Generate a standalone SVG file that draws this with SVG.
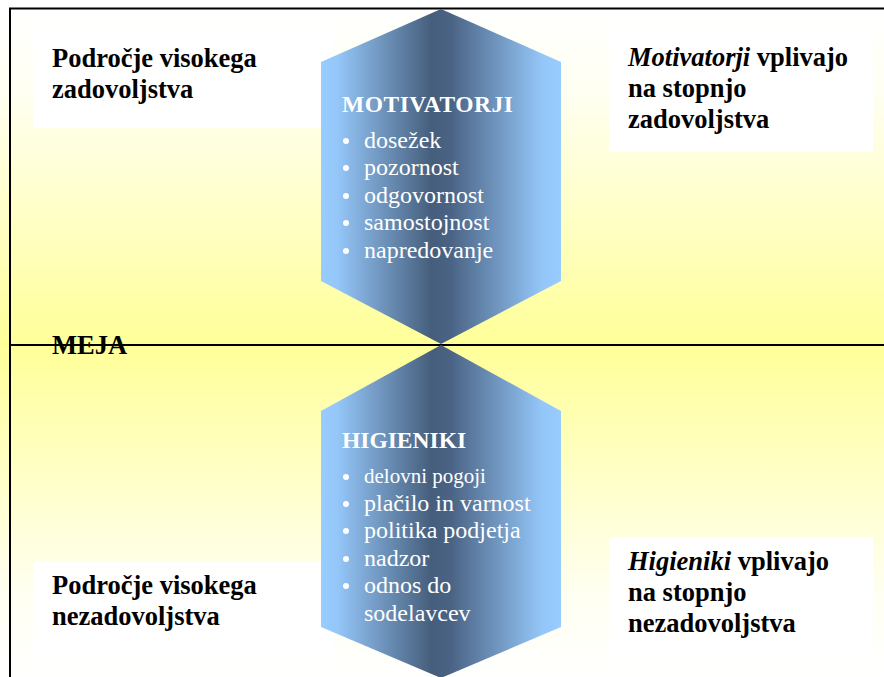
<svg xmlns="http://www.w3.org/2000/svg" width="884" height="677" viewBox="0 0 884 677">
  <style>
    text { font-family: "Liberation Serif", "DejaVu Serif", serif; }
    .lbl { font-weight: bold; font-size: 26.5px; fill: #000; }
    .head { font-weight: bold; font-size: 23.5px; fill: #fff; }
    .item { font-size: 24px; fill: #fff; }
    .dot { fill: #fff; }
    .box { fill: #fff; }
    .rule { stroke: #000; stroke-width: 2; fill: none; }
  </style>
  <defs>
    <linearGradient id="bgTop" x1="0" y1="9" x2="0" y2="345" gradientUnits="userSpaceOnUse">
      <stop offset="0" stop-color="#ffffff"/>
      <stop offset="0.25" stop-color="#fffff2"/>
      <stop offset="1" stop-color="#ffff99"/>
    </linearGradient>
    <linearGradient id="bgBottom" x1="0" y1="345" x2="0" y2="677" gradientUnits="userSpaceOnUse">
      <stop offset="0" stop-color="#ffff99"/>
      <stop offset="0.75" stop-color="#fffff2"/>
      <stop offset="1" stop-color="#ffffff"/>
    </linearGradient>
    <linearGradient id="steel" x1="321" y1="0" x2="561" y2="0" gradientUnits="userSpaceOnUse">
      <stop offset="0" stop-color="#99ccff"/>
      <stop offset="0.07" stop-color="#94c6f8"/>
      <stop offset="0.46" stop-color="#465e7c"/>
      <stop offset="0.54" stop-color="#4a6384"/>
      <stop offset="0.92" stop-color="#94c6f8"/>
      <stop offset="1" stop-color="#99ccff"/>
    </linearGradient>
  </defs>

  <!-- background bands -->
  <rect x="0" y="0" width="884" height="677" fill="#ffffff"/>
  <rect x="0" y="9" width="884" height="336" fill="url(#bgTop)"/>
  <rect x="0" y="345" width="884" height="332" fill="url(#bgBottom)"/>

  <!-- white caption panels -->
  <rect class="box" x="33" y="25" width="300" height="103"/>
  <rect class="box" x="609" y="30" width="264" height="122"/>
  <rect class="box" x="33" y="562" width="300" height="100"/>
  <rect class="box" x="609" y="537" width="264" height="123"/>

  <!-- frame and boundary line -->
  <g id="connectors">
    <line class="rule" x1="9" y1="8.5" x2="884" y2="8.5"/>
    <line class="rule" x1="10" y1="8" x2="10" y2="677"/>
    <line class="rule" x1="10" y1="345" x2="884" y2="345"/>
  </g>

  <g id="motivatorji">
    <polygon points="441,9 561,62 561,281 441,344 321,281 321,62" fill="url(#steel)"/>
    <text class="head" x="342" y="112" letter-spacing="0.5">MOTIVATORJI</text>
    <circle class="dot" cx="346" cy="141" r="3"/>
    <text class="item" x="364" y="148">dosežek</text>
    <circle class="dot" cx="346" cy="168" r="3"/>
    <text class="item" x="364" y="175">pozornost</text>
    <circle class="dot" cx="346" cy="196" r="3"/>
    <text class="item" x="364" y="203">odgovornost</text>
    <circle class="dot" cx="346" cy="223" r="3"/>
    <text class="item" x="364" y="230">samostojnost</text>
    <circle class="dot" cx="346" cy="251" r="3"/>
    <text class="item" x="364" y="258">napredovanje</text>
  </g>

  <g id="higieniki">
    <polygon points="441,345 561,411 561,627 441,678 321,627 321,411" fill="url(#steel)"/>
    <text class="head" x="342" y="448">HIGIENIKI</text>
    <circle class="dot" cx="346" cy="477" r="3"/>
    <text class="item" x="364" y="483" style="font-size:21px">delovni pogoji</text>
    <circle class="dot" cx="346" cy="504" r="3"/>
    <text class="item" x="364" y="511">plačilo in varnost</text>
    <circle class="dot" cx="346" cy="531" r="3"/>
    <text class="item" x="364" y="538">politika podjetja</text>
    <circle class="dot" cx="346" cy="559" r="3"/>
    <text class="item" x="364" y="566">nadzor</text>
    <circle class="dot" cx="346" cy="586" r="3"/>
    <text class="item" x="364" y="593">odnos do</text>
    <text class="item" x="364" y="621">sodelavcev</text>
  </g>

  <g id="label-zadovoljstvo">
    <text class="lbl" x="52" y="67">Področje visokega</text>
    <text class="lbl" x="52" y="98">zadovoljstva</text>
  </g>

  <g id="label-motivatorji">
    <text class="lbl" x="628" y="66"><tspan font-style="italic">Motivatorji</tspan> vplivajo</text>
    <text class="lbl" x="628" y="97">na stopnjo</text>
    <text class="lbl" x="628" y="128">zadovoljstva</text>
  </g>

  <g id="label-meja">
    <text class="lbl" x="52" y="354">MEJA</text>
  </g>

  <g id="label-nezadovoljstvo">
    <text class="lbl" x="52" y="594">Področje visokega</text>
    <text class="lbl" x="52" y="625">nezadovoljstva</text>
  </g>

  <g id="label-higieniki">
    <text class="lbl" x="628" y="570"><tspan font-style="italic">Higieniki</tspan> vplivajo</text>
    <text class="lbl" x="628" y="601">na stopnjo</text>
    <text class="lbl" x="628" y="632">nezadovoljstva</text>
  </g>
</svg>
